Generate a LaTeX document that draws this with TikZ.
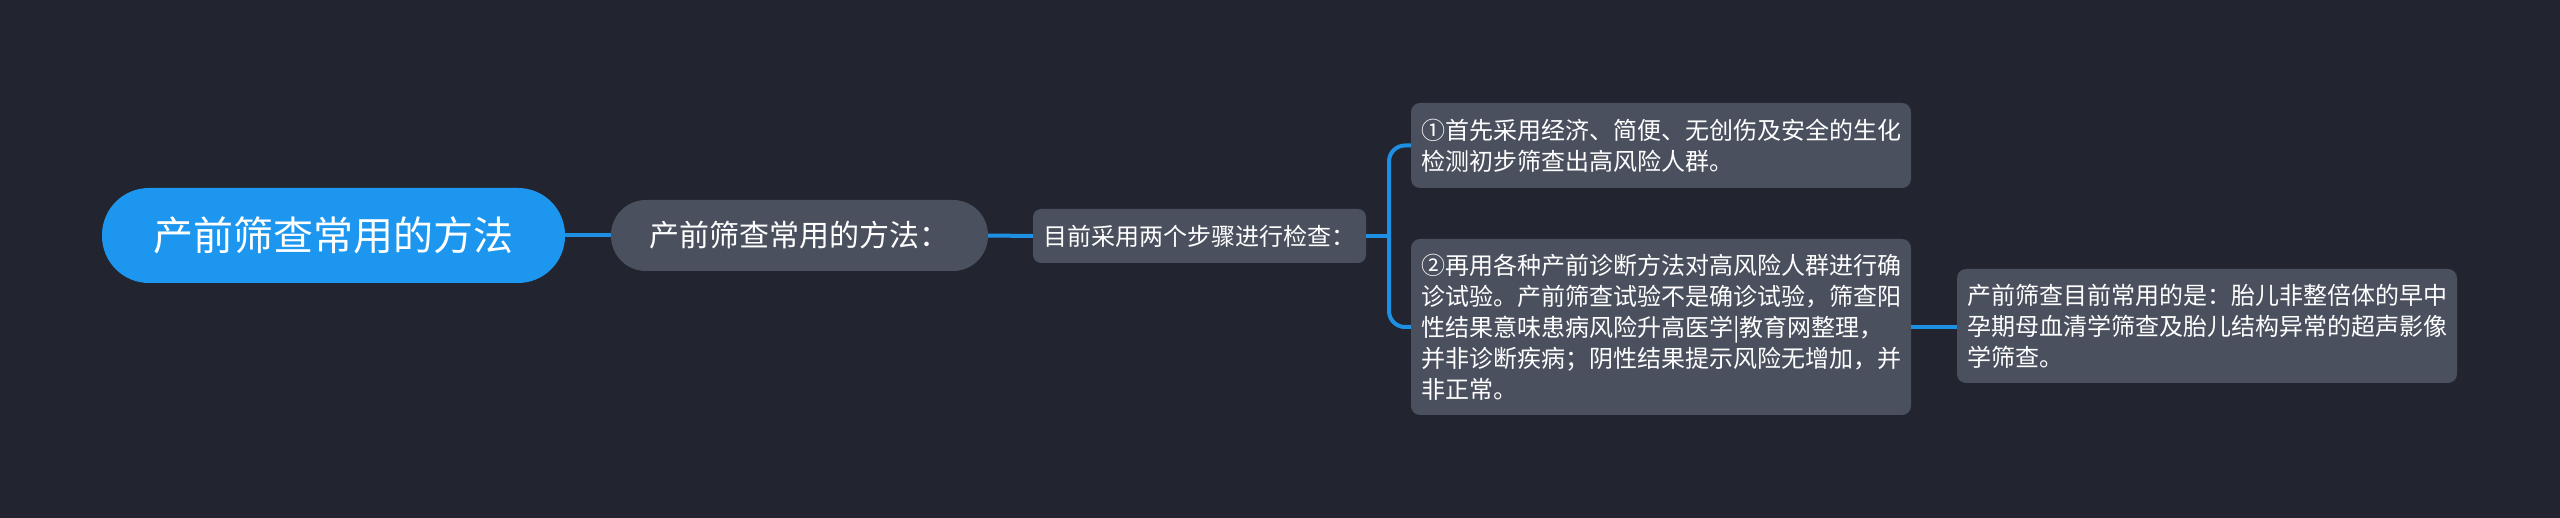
\documentclass[tikz,border=0pt]{standalone}
\usepackage{fontspec}
\setmainfont{Noto Sans CJK SC}
\usetikzlibrary{calc}
\definecolor{bgc}{HTML}{22252F}
\definecolor{rootc}{HTML}{1C96EE}
\definecolor{linec}{HTML}{1E90E4}
\definecolor{boxc}{HTML}{4A505E}
\tikzset{
  rootbox/.style={fill=rootc, text=white, rounded corners=47pt, minimum width=463pt, minimum height=95pt, inner sep=0pt, outer sep=0pt, font=\fontsize{40pt}{48pt}\selectfont},
  pillbox/.style={fill=boxc, text=white, rounded corners=35pt, minimum width=377pt, minimum height=71pt, inner sep=0pt, outer sep=0pt, font=\fontsize{30pt}{36pt}\selectfont},
  smallbox/.style={fill=boxc, text=white, rounded corners=8pt, inner sep=0pt, outer sep=0pt, font=\fontsize{24pt}{31pt}\selectfont},
  textbox/.style={fill=boxc, text=white, rounded corners=9pt, inner xsep=10pt, inner ysep=0pt, outer sep=0pt, text width=480pt, align=left, font=\fontsize{24pt}{31pt}\selectfont},
  conn/.style={draw=linec, line width=4pt},
}
\begin{document}
\begin{tikzpicture}[x=1pt,y=-1pt]
\fill[bgc] (0,0) rectangle (2560,518);
\useasboundingbox (0,0) rectangle (2560,518);

\node[rootbox] (root) at (333.5,235.5) {产前筛查常用的方法};
\node[pillbox] (n2) at (799.5,235.5) {产前筛查常用的方法：};
\node[smallbox, minimum width=333pt, minimum height=54pt] (n3) at (1199.5,236) {目前采用两个步骤进行检查：};
\node[textbox, minimum height=85pt] (n4) at (1661,145.5) {①首先采用经济、简便、无创伤及安全的生化\\检测初步筛查出高风险人群。};
\node[textbox, minimum height=176pt] (n5) at (1661,327) {②再用各种产前诊断方法对高风险人群进行确\\诊试验。产前筛查试验不是确诊试验，筛查阳\\性结果意味患病风险升高医学|教育网整理，\\并非诊断疾病；阴性结果提示风险无增加，并\\非正常。};
\node[textbox, minimum height=114pt] (n6) at (2207,326) {产前筛查目前常用的是：胎儿非整倍体的早中\\孕期母血清学筛查及胎儿结构异常的超声影像\\学筛查。};

\coordinate (br) at (1389,236);
\draw[conn] (root.east) -- (n2.west);
\draw[conn] (n2.east) -- (n3.west);
\draw[conn] (n3.east) -- (br);
\draw[conn, rounded corners=16pt] (br) |- (n4.west);
\draw[conn, rounded corners=16pt] (br) |- (n5.west);
\draw[conn] (n5.east) -- (n5.east -| n6.west);
\end{tikzpicture}
\end{document}
